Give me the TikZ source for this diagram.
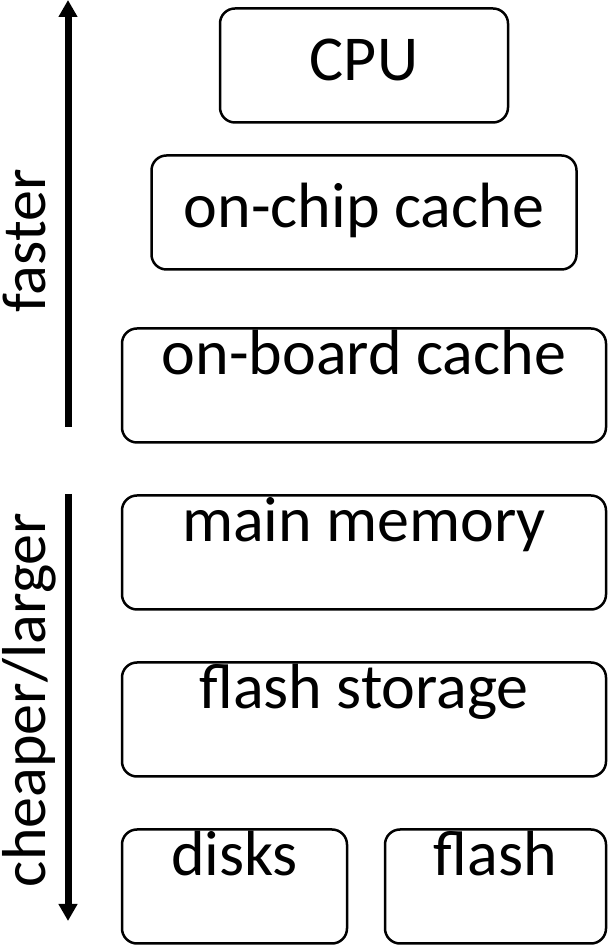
\documentclass[tikz,border=0pt]{standalone}
\usepackage{fontspec}
\setmainfont{Carlito}
\usetikzlibrary{arrows.meta, positioning}

\begin{document}
\begin{tikzpicture}[x=1pt, y=1pt,
    level/.style={draw, rounded corners=15pt, line width=2.5pt, inner sep=0pt,
                  outer sep=0pt, minimum height=114pt,
                  font=\fontsize{64}{77}\selectfont},
    midbox/.style={level, text height=43pt, text depth=13pt},
    topbox/.style={level, text height=22pt, text depth=44pt},
    side/.style={rotate=90, anchor=base, inner sep=0pt,
                 font=\fontsize{62}{74}\selectfont},
    arr/.style={-{Triangle[length=17pt, width=18pt]}, line width=7pt},
    node distance=53pt
]
\useasboundingbox (0,0) rectangle (615,947);

\node[midbox, minimum width=288pt] (cpu) at (364,881.5) {CPU};
\node[midbox, minimum width=425pt, below=33pt of cpu] (chip) {on-chip cache};
\node[topbox, minimum width=484pt, below=59pt of chip] (board) {on-board cache};
\node[topbox, minimum width=484pt, below=of board] (mem) {main memory};
\node[topbox, minimum width=484pt, below=of mem] (store) {flash storage};
\node[topbox, minimum width=225pt, below right=53pt and 0pt of store.south west] (disks) {disks};
\node[topbox, minimum width=221pt, below left=53pt and 0pt of store.south east] (flash) {flash};

\node[side] (fasterlbl) at (45,706) {faster};
\node[side] (cheaperlbl) at (45,247) {cheaper/larger};

\coordinate (fastBot) at (68,520);
\coordinate (fastTop) at (68,947);
\coordinate (cheapTop) at (68,453);
\coordinate (cheapBot) at (68,26);

\draw[arr] (fastBot) -- (fastTop);
\draw[arr] (cheapTop) -- (cheapBot);
\end{tikzpicture}
\end{document}
